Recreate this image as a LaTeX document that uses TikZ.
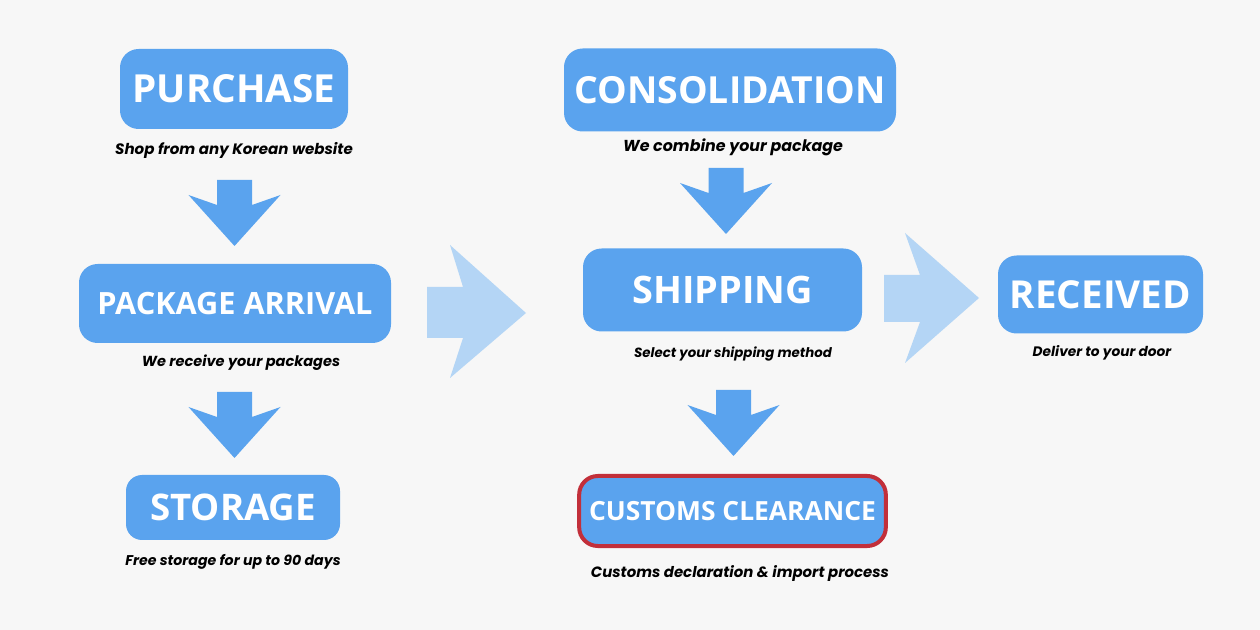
\documentclass[tikz,border=0pt]{standalone}
\usepackage{fontspec}
\setmainfont{Poppins}
\newfontfamily\boxfont{Open Sans}
\definecolor{bgc}{HTML}{F7F7F7}
\definecolor{boxblue}{HTML}{5AA3EE}
\definecolor{lightblue}{HTML}{B4D5F5}
\definecolor{redborder}{HTML}{C22F3A}
\tikzset{
  box/.style={fill=boxblue, rounded corners=14pt, text=white, inner sep=0pt,
              font=\boxfont\bfseries},
  caption/.style={text=black, inner sep=0pt, font=\bfseries\itshape},
  downarr/.style={fill=boxblue},
  bigarr/.style={fill=lightblue}
}
\newcommand\dnarrow[2]{% top centre x, top y
  \fill[downarr] (#1-17.5,#2) -- (#1+17.5,#2) -- (#1+17.5,#2+25) -- (#1+46,#2+15)
    -- (#1,#2+66) -- (#1-46,#2+15) -- (#1-17.5,#2+25) -- cycle;}
\begin{document}
\begin{tikzpicture}[x=0.75pt,y=-0.75pt]
\fill[bgc] (0,0) rectangle (1260,630);
\useasboundingbox (0,0) rectangle (1260,630);

% boxes
\node[box, minimum width=171pt, minimum height=60pt, font=\boxfont\bfseries\fontsize{29pt}{30pt}\selectfont] (purchase) at (234,89) {PURCHASE};
\node[box, minimum width=234pt, minimum height=59.25pt, font=\boxfont\bfseries\fontsize{23pt}{24pt}\selectfont] (arrival) at (235,303.5) {PACKAGE ARRIVAL};
\node[box, rounded corners=12pt, minimum width=160.5pt, minimum height=48.75pt, font=\boxfont\bfseries\fontsize{27.5pt}{28pt}\selectfont] (storage) at (233,507.5) {STORAGE};
\node[box, minimum width=249pt, minimum height=62.25pt, font=\boxfont\bfseries\fontsize{28pt}{29pt}\selectfont] (consol) at (730,90) {CONSOLIDATION};
\node[box, minimum width=209.25pt, minimum height=62.25pt, font=\boxfont\bfseries\fontsize{28.4pt}{29pt}\selectfont] (shipping) at (722.5,290) {SHIPPING};
\node[box, draw=redborder, line width=3pt, minimum width=230pt, minimum height=52.5pt, font=\boxfont\bfseries\fontsize{19.8pt}{21pt}\selectfont] (customs) at (732.5,511) {CUSTOMS CLEARANCE};
\node[box, minimum width=153.75pt, minimum height=58.5pt, font=\boxfont\bfseries\fontsize{28.9pt}{30pt}\selectfont] (received) at (1100.5,294.5) {RECEIVED};

% captions
\node[caption, font=\bfseries\itshape\fontsize{11.3pt}{12pt}\selectfont] (c1) at (234,150) {Shop from any Korean website};
\node[caption, font=\bfseries\itshape\fontsize{10.9pt}{12pt}\selectfont] (c2) at (241,362.5) {We receive your packages};
\node[caption, font=\bfseries\itshape\fontsize{10.6pt}{12pt}\selectfont] (c3) at (233,561.5) {Free storage for up to 90 days};
\node[caption, font=\bfseries\itshape\fontsize{11.9pt}{13pt}\selectfont] (c4) at (733,147.5) {We combine your package};
\node[caption, font=\bfseries\itshape\fontsize{10pt}{11pt}\selectfont] (c5) at (733,353.5) {Select your shipping method};
\node[caption, font=\bfseries\itshape\fontsize{11.2pt}{12pt}\selectfont] (c6) at (740,573.5) {Customs declaration \& import process};
\node[caption, font=\bfseries\itshape\fontsize{10.3pt}{12pt}\selectfont] (c7) at (1102,352.5) {Deliver to your door};

% down arrows
\dnarrow{234.5}{180}
\dnarrow{234.5}{392}
\dnarrow{726}{168}
\dnarrow{733.5}{390}

% big light arrows
\fill[bigarr] (427,287) -- (463,287) -- (450,245) -- (526,313) -- (450,378) -- (463,338) -- (427,338) -- cycle;
\fill[bigarr] (884,275) -- (920,275) -- (905,233) -- (979,298) -- (905,363) -- (920,322) -- (884,322) -- cycle;
\end{tikzpicture}
\end{document}
